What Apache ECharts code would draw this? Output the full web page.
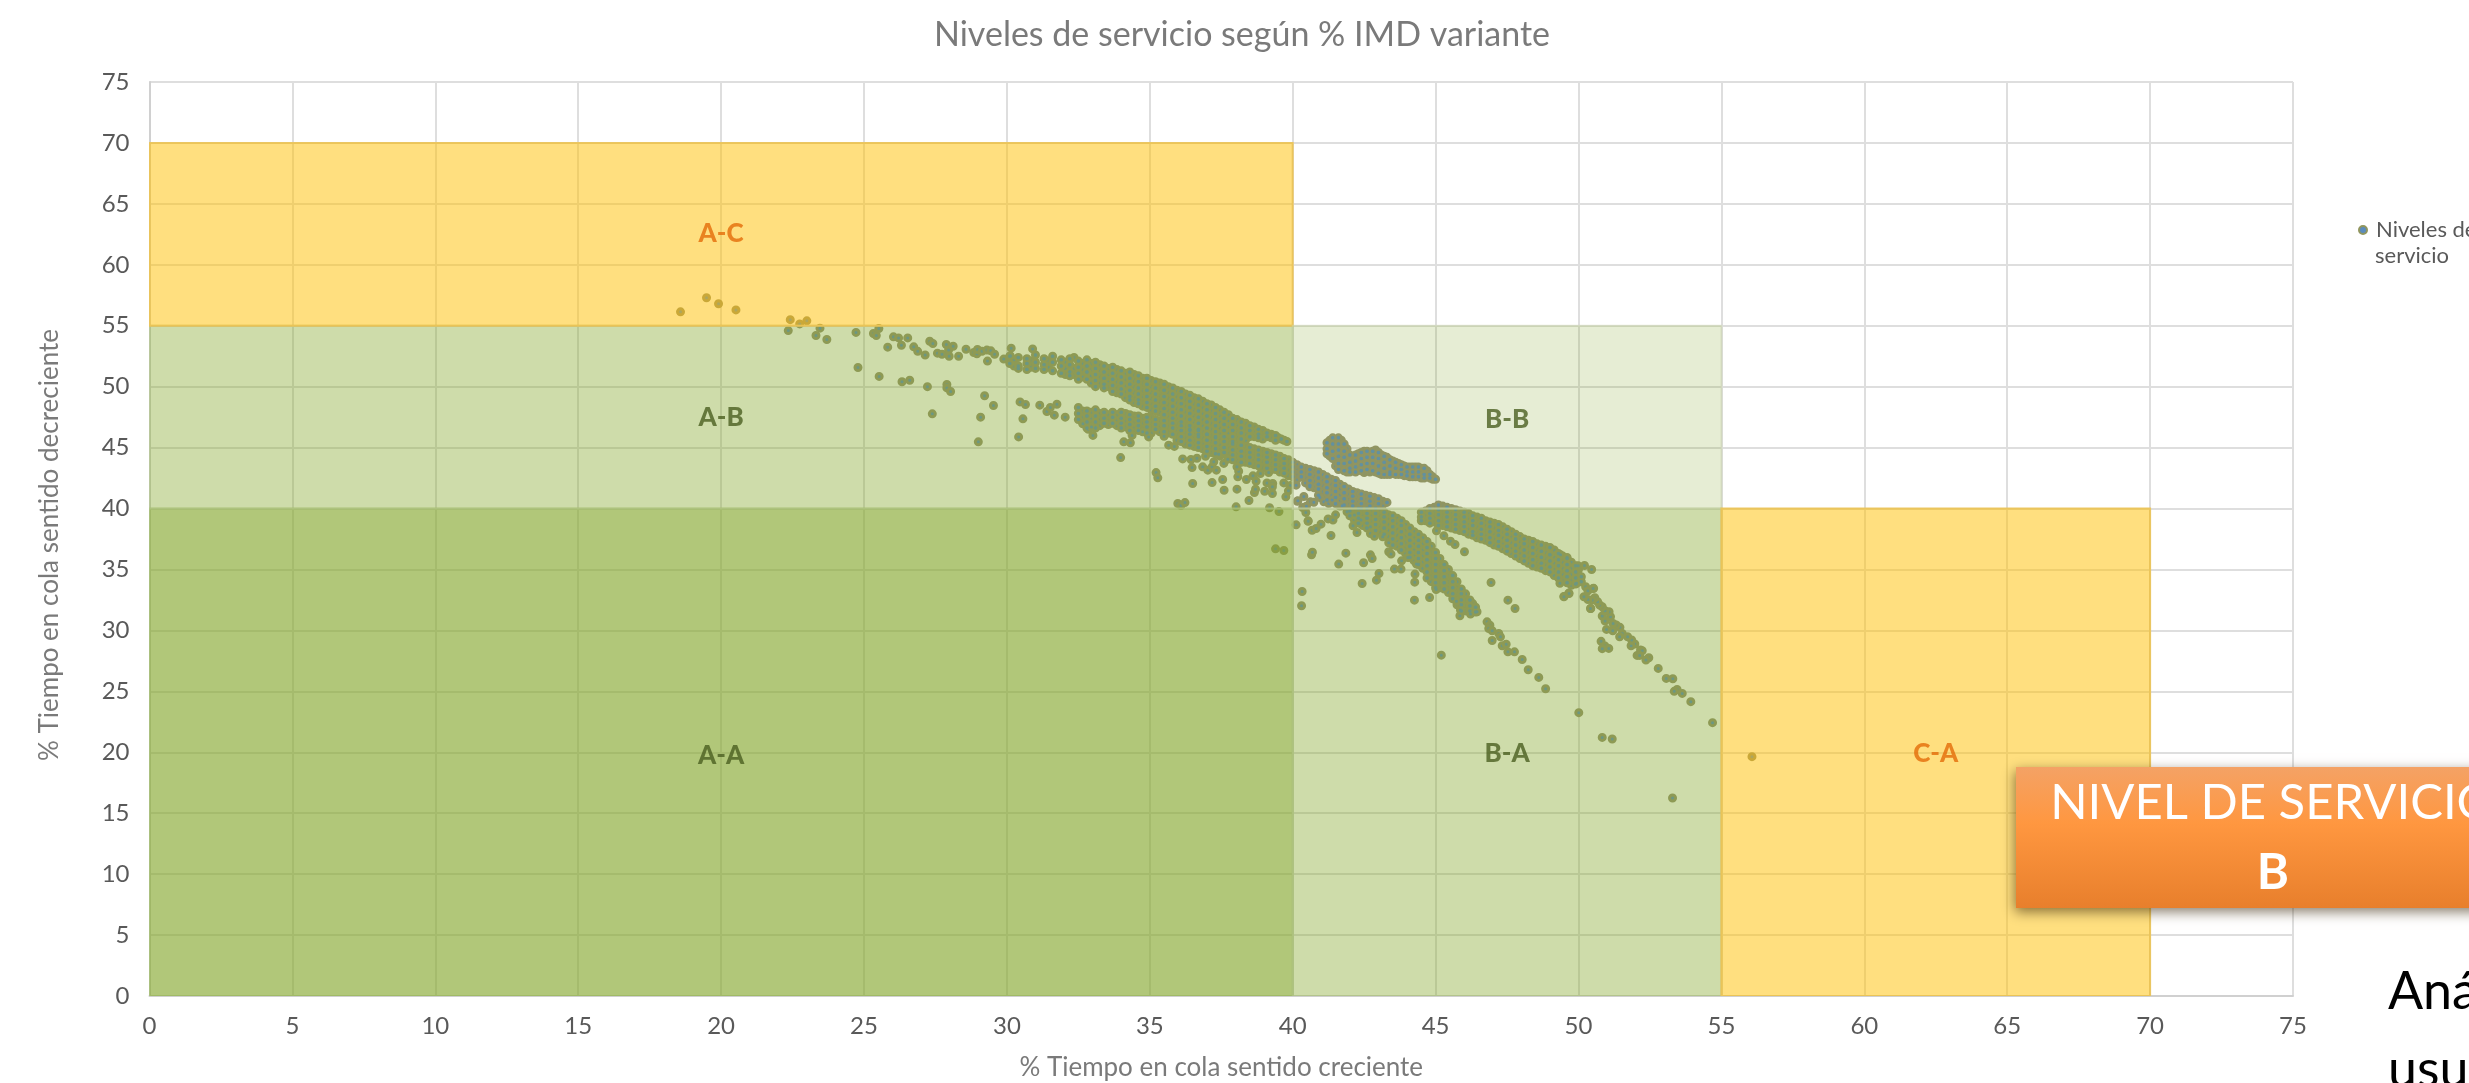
<!DOCTYPE html>
<html><head><meta charset="utf-8">
<style>html,body{margin:0;padding:0;background:#fff;overflow:hidden}#c{width:2469px;height:1083px}</style>
<script src="https://cdn.jsdelivr.net/npm/echarts@6/dist/echarts.min.js"></script>
</head><body><div id="c"></div>
<script>
// Sparse points [x, y]
const sparseLeft = [[18.58,56.14],[19.49,57.3],[19.91,56.8],[20.52,56.3],[22.42,55.5],[22.75,55.15],[23.0,55.4],[22.35,54.6],[23.46,54.8],[23.32,54.2],[23.7,53.87],[24.72,54.45],[24.79,51.57],[25.53,50.84],[25.33,54.36],[25.43,54.2],[25.52,54.77],[25.83,53.24],[26.03,54.09],[26.21,54.0],[26.31,53.4],[26.53,54.0],[26.33,50.4],[26.6,50.53],[26.74,53.27],[26.88,52.9],[27.14,52.6],[27.22,50.0],[27.3,53.73],[27.41,53.54],[27.57,52.75],[27.73,52.66],[27.98,52.5],[27.88,53.46],[27.96,53.0],[28.12,53.32],[28.31,52.5],[28.57,53.07],[27.9,50.18],[27.9,49.9],[28.03,49.6],[27.39,47.77],[28.84,52.8],[28.95,52.7],[28.97,53.05],[29.13,52.9],[29.3,53.0],[29.44,52.94],[29.57,52.66],[29.32,52.1],[29.22,49.25],[29.53,48.45],[29.08,47.5],[29.0,45.47],[29.89,52.26],[30.15,53.16],[30.12,52.53],[30.9,53.1],[30.46,48.75],[30.65,48.54],[30.56,47.36],[30.41,45.88],[31.15,48.48],[31.4,47.96],[31.52,48.29],[31.75,48.56],[31.66,47.66],[32.04,47.5]];
const sparseCentre = [[32.66,46.95],[32.85,46.5],[33.01,46.0],[32.96,46.7],[34.09,45.47],[34.32,45.4],[33.98,44.18],[34.38,46.0],[34.75,46.3],[34.96,45.88],[35.5,45.93],[35.66,45.2],[35.86,45.1],[36.15,44.07],[36.44,44.02],[36.65,44.13],[36.95,44.29],[36.48,43.36],[36.85,43.42],[37.03,43.15],[37.18,43.42],[37.24,43.83],[37.33,43.15],[37.59,43.7],[37.73,44.05],[37.41,44.46],[35.22,42.95],[35.28,42.52],[36.5,42.05],[37.18,42.13],[37.55,42.38],[37.6,41.5],[38.05,41.59],[38.08,42.6],[38.11,43.06],[38.05,43.42],[38.38,42.38],[38.61,42.68],[38.72,42.24],[38.66,41.31],[38.7,41.59],[38.47,40.66],[38.02,40.14],[35.98,40.41],[36.09,40.25],[36.23,40.49],[39.1,42.1],[39.3,42.05],[39.02,41.42],[39.29,41.23],[39.29,41.78],[38.87,42.87],[39.16,42.95],[39.69,42.1],[39.92,41.9],[39.85,41.45],[39.76,40.96],[40.16,40.6],[39.19,40.06],[39.52,39.75],[40.12,38.66],[39.4,36.69],[39.69,36.56],[40.12,41.92],[40.18,40.63],[40.39,40.99],[40.35,40.08],[40.48,40.19],[40.46,39.67],[40.54,38.99],[40.62,40.55],[40.74,40.52],[40.6,41.78],[40.95,40.9],[41.09,40.55],[41.26,40.41],[41.38,40.69],[41.73,40.22],[41.9,39.73],[42.16,39.46],[42.39,39.05]];
const sparseLower = [[40.54,38.96],[40.68,38.22],[40.82,38.36],[40.99,38.72],[41.24,39.15],[41.41,39.05],[41.5,39.48],[41.34,37.79],[40.66,36.2],[40.69,36.42],[40.33,33.19],[40.31,32.02],[41.86,36.34],[41.61,35.44],[42.48,35.55],[42.72,36.2],[42.78,35.9],[42.43,33.85],[42.93,34.12],[43.02,34.67],[42.11,38.58],[42.25,38.03],[42.72,38.5],[42.72,37.95],[42.86,37.73],[43.15,37.68],[43.36,37.19],[43.36,36.45],[43.44,36.26],[43.56,35.03],[43.79,35.03],[43.81,35.71],[44.03,35.98],[44.33,35.44],[44.28,34.62],[44.27,33.96],[44.26,32.48],[44.79,32.7],[45.02,33.36],[45.2,27.97],[45.03,38.17],[45.29,37.76],[45.52,37.32],[45.68,37.05],[46.01,36.45],[46.94,33.93],[47.53,32.48],[47.78,31.8],[45.85,31.2],[46.22,31.34],[45.87,31.67],[45.73,32.4],[46.45,31.53]];
const tailLeft = [[46.8,30.7],[46.9,30.43],[46.86,30.16],[46.98,29.97],[46.98,29.17],[47.21,29.75],[47.27,29.47],[47.33,28.74],[47.47,28.87],[47.53,28.24],[47.76,28.24],[48.03,27.61],[48.24,26.77],[48.61,26.14],[48.85,25.21],[50.01,23.25],[50.83,21.22],[51.18,21.09],[53.29,16.25]];
const tailRight = [[56.07,19.64],[54.69,22.43],[53.93,24.15],[53.63,24.83],[53.45,25.16],[53.35,25.0],[53.3,26.03],[53.07,26.06],[52.79,26.88],[52.46,27.76],[52.36,27.57],[52.17,28.39],[52.23,28.33],[52.05,27.95],[52.14,27.95],[51.97,28.88],[51.84,28.74],[51.86,29.21],[51.72,29.48],[51.53,29.75],[51.44,29.48],[51.45,30.25],[51.32,30.44],[51.2,29.97],[50.98,30.08],[51.21,30.57],[51.12,31.12],[50.93,30.77],[50.83,31.18],[51.07,31.53],[50.93,31.61],[50.79,29.1],[50.93,28.71],[51.06,28.52],[50.83,28.5],[50.83,31.94],[50.74,32.08],[50.67,32.35],[50.43,31.8],[50.53,33.45],[50.57,32.68],[50.48,32.49],[50.33,32.54],[50.19,32.76],[50.25,33.58],[50.33,33.25],[50.07,34.0],[49.93,33.86],[49.99,35.3],[50.21,35.33],[50.46,35.0],[49.66,33.06],[49.49,32.79],[49.35,33.86],[49.37,36.2],[49.6,35.99],[50.42,31.8],[50.51,33.44],[49.67,33.03],[49.49,32.76]];
// Dense bands read column by column: [x, [y, y, ...]]
const bandUpper = [[30.1,[52.5,51.9]],[30.4,[52.4,51.7,51.5]],[30.7,[52.3,51.9,51.4]],[31.0,[52.6,52.0,51.5]],[31.3,[52.3,51.8,51.4]],[31.6,[52.5,52,51.3]],[31.9,[52.2,51.7,51.1]],[32.2,[52.3,51.8,51.2,50.9]],[32.5,[52.1,51.6,51.1,50.6]],[32.8,[52.2,51.7,51.2,50.6]],[33.1,[52.0,51.5,51,50.5,50.0]],[33.4,[51.7,51.2,50.7,50.2,49.9]],[33.7,[51.6,51.1,50.6,50.1,49.6]],[34.0,[51.3,50.8,50.3,49.8,49.4]],[34.3,[51.2,50.7,50.2,49.7,49.2,48.9]],[34.6,[50.9,50.4,49.9,49.4,48.9,48.6]],[34.9,[50.7,50.2,49.7,49.2,48.7,48.3]],[35.2,[50.4,49.9,49.4,48.9,48.4,48.0]],[35.5,[50.2,49.7,49.2,48.7,48.2,47.7]],[35.8,[49.9,49.4,48.9,48.4,47.9,47.4]],[36.1,[49.6,49.1,48.6,48.1,47.6,47.1]],[36.4,[49.3,48.8,48.3,47.8,47.3,46.8,46.4]],[36.7,[49,48.5,48,47.5,47,46.5,46.1]],[37,[48.6,48.1,47.6,47.1,46.6,46.1]],[37.3,[48.3,47.8,47.3,46.8,46.3,45.8]],[37.6,[47.9,47.4,46.9,46.4,45.9]],[37.9,[47.4,46.9,46.4,45.9,45.5]],[38.2,[47.1,46.6,46.2,45.7]],[38.5,[46.8,46.4,45.9]],[38.8,[46.5,46.1,45.8]],[39.1,[46.2,45.9]],[39.4,[46,45.6]],[39.6,[45.7]],[39.8,[45.5]]];
const bandUpperFill = [[30.25,[52.2,51.7]],[30.85,[52.1,51.6]],[31.45,[52.1,51.6]],[32.05,[52.0,51.5,51.0]],[32.35,[52.4,51.5,51.0]],[32.65,[51.9,51.4,50.8]],[32.95,[51.9,51.4,50.9,50.3]],[33.25,[51.8,51.3,50.8,50.3]],[33.55,[51.5,51,50.4,50]],[33.85,[51.4,50.9,50.4,49.9,49.5]],[34.15,[51.1,50.6,50.1,49.6,49.1]],[34.45,[51,50.5,50,49.5,49,48.7]],[34.75,[50.7,50.3,49.7,49.2,48.7,48.4]],[35.05,[50.5,50,49.5,49,48.5,48.1]],[35.35,[50.3,49.8,49.3,48.8,48.3,47.9]],[35.65,[50,49.5,49,48.5,48,47.5]],[35.95,[49.7,49.2,48.7,48.2,47.7,47.2]],[36.25,[49.4,48.9,48.4,47.9,47.4,46.9,46.6]],[36.55,[49.1,48.6,48.1,47.6,47.1,46.6,46.2]],[36.85,[48.8,48.3,47.8,47.3,46.8,46.3]],[37.15,[48.5,48,47.5,47,46.5,46]],[37.45,[48.1,47.6,47.1,46.6,46.1,45.7]],[37.75,[47.7,47.2,46.7,46.2,45.7]],[38.05,[47.3,46.8,46.3,45.8]],[38.35,[47,46.5,46.1,45.6]],[38.65,[46.7,46.3,45.9]],[38.95,[46.4,46,45.7]],[39.25,[46.1,45.8]],[39.5,[45.8]],[39.7,[45.6]]];
const bandLower = [[32.5,[48.3,47.8,47.3]],[32.8,[48.0,47.6,47.1,46.6]],[33.1,[48.1,47.6,47.1,46.6]],[33.4,[47.9,47.4,47.0]],[33.7,[47.9,47.5,47.0]],[34,[47.9,47.4,47,46.6]],[34.3,[47.7,47.3,46.9,46.4]],[34.6,[47.6,47.2,46.8,46.4]],[34.9,[47.5,47.1,46.7,46.2]],[35.2,[47.3,46.9,46.5]],[35.5,[47.2,46.8,46.3]],[35.8,[47.0,46.6,46.1]],[36.1,[46.8,46.4,45.9,45.5]],[36.4,[46.5,46.1,45.6,45.2]],[36.7,[46.4,45.9,45.4,45]],[37,[46.1,45.6,45.1,44.7]],[37.3,[45.9,45.4,44.9,44.5]],[37.6,[45.5,45,44.6]],[37.9,[45.3,44.8,44.4,44]],[38.2,[45.2,44.7,44.3,43.8]],[38.5,[45,44.6,44.2,43.7]],[38.8,[44.8,44.4,44,43.5]],[39.1,[44.6,44.2,43.8,43.3]],[39.4,[44.4,44,43.6,43.2]],[39.7,[44.1,43.7,43.3,42.9]],[40,[43.8,43.4,43,42.6]],[40.3,[43.4,43,42.6]],[40.6,[43.2,42.8,42.3,41.9]],[40.9,[43,42.5,42,41.6,41.1]],[41.2,[42.6,42.2,41.7,41.3,40.7]],[41.5,[42.3,41.9,41.4,40.9,40.4]],[41.8,[41.8,41.3,40.8,40.3]],[42.1,[41.4,41,40.6,40.2]],[42.4,[41.2,40.8,40.4,40]],[42.7,[41,40.6,40.2]],[43,[40.8,40.4]],[43.3,[40.5]]];
const bandLowerFill = [[32.65,[48,47.5,47]],[32.95,[47.9,47.4,46.9]],[33.25,[47.8,47.3,46.8]],[33.55,[47.7,47.2,46.9]],[33.85,[47.7,47.2,46.8]],[34.15,[47.8,47.2,46.7]],[34.45,[47.6,47.1,46.6]],[34.75,[47.4,47,46.5]],[35.05,[47.4,47,46.6,46.2]],[35.35,[47.2,46.7,46.3]],[35.65,[47.1,46.7,46.2]],[35.95,[46.9,46.5,46,45.6]],[36.25,[46.7,46.2,45.8,45.3]],[36.55,[46.5,46,45.5,45.1]],[36.85,[46.3,45.8,45.3,44.9]],[37.15,[46,45.5,45,44.6]],[37.45,[45.7,45.2,44.8,44.3]],[37.75,[45.4,44.9,44.5,44.1]],[38.05,[45.2,44.8,44.4,43.9]],[38.35,[45.1,44.6,44.2,43.8]],[38.65,[44.9,44.5,44.1,43.6]],[38.95,[44.7,44.3,43.9,43.4]],[39.25,[44.5,44.1,43.7,43.2]],[39.55,[44.3,43.9,43.5,43]],[39.85,[44,43.6,43.2,42.7]],[40.15,[43.6,43.2,42.8,42.4]],[40.45,[43.3,42.9,42.5,42.1]],[40.75,[43.1,42.6,42.2,41.7]],[41.05,[42.8,42.3,41.9,41.4,40.9]],[41.35,[42.4,42,41.5,41.1,40.6]],[41.65,[42,41.6,41.1,40.6,40.2]],[41.95,[41.6,41.2,40.7,40.3]],[42.25,[41.3,40.9,40.5,40.1]],[42.55,[41.1,40.7,40.3]],[42.85,[40.9,40.5,40.1]],[43.15,[40.6,40.3]]];
const bandMiddle = [[42,[39.8,39.4]],[42.3,[40,39.6,39.2,38.8]],[42.6,[40,39.6,39.2,38.8,38.4]],[42.9,[40,39.6,39.1,38.7,38.2]],[43.2,[39.7,39.3,38.9,38.4,37.9]],[43.5,[39.4,39,38.5,38,37.5,37]],[43.8,[39,38.6,38.1,37.6,37.1,36.6]],[44.1,[38.4,37.9,37.4,36.9,36.4,36]],[44.4,[37.9,37.4,36.9,36.4,35.9,35.4]],[44.7,[37.3,36.8,36.3,35.8,35.3,34.8,34.3]],[45,[36.4,35.9,35.4,34.9,34.4,33.9,33.5]],[45.3,[35.4,34.9,34.4,33.9,33.4]],[45.6,[34.5,34,33.5,33,32.6]],[45.9,[33.4,33,32.5,32.1,31.6]],[46.2,[32.5,32,31.6]],[46.4,[31.9,31.5]]];
const bandMiddleFill = [[42.15,[39.9,39.5,39.1]],[42.45,[39.8,39.4,39,38.6]],[42.75,[39.8,39.4,39,38.5]],[43.05,[39.8,39.4,39,38.5,38.1]],[43.35,[39.5,39.1,38.7,38.2,37.7]],[43.65,[39.2,38.8,38.3,37.8,37.3,36.9]],[43.95,[38.7,38.2,37.7,37.2,36.7,36.3]],[44.25,[38.1,37.6,37.1,36.6,36.1,35.7]],[44.55,[37.6,37.1,36.6,36.1,35.6,35.1]],[44.85,[36.9,36.4,35.9,35.4,34.9,34.4,34]],[45.15,[35.9,35.4,34.9,34.4,33.9,33.5]],[45.45,[35,34.5,34,33.5,33.1]],[45.75,[34,33.5,33,32.6,32.1]],[46.05,[33,32.5,32,31.6]],[46.3,[32.2,31.7]]];
const bandRight = [[44.5,[39.7,39.3,39]],[44.8,[40,39.6,39.2,38.8]],[45.1,[40.3,39.9,39.5,39,38.6]],[45.4,[40.1,39.7,39.3,38.9,38.5]],[45.7,[39.9,39.5,39.1,38.7,38.3]],[46,[39.7,39.3,38.9,38.5,38.1]],[46.3,[39.4,39,38.6,38.1,37.8]],[46.6,[39.2,38.8,38.3,37.9,37.5]],[46.9,[38.9,38.5,38.1,37.6,37.2]],[47.2,[38.7,38.2,37.8,37.3,36.9]],[47.5,[38.3,37.9,37.4,36.9,36.5]],[47.8,[37.9,37.5,37,36.5,36.1]],[48.1,[37.5,37.1,36.6,36.1,35.7]],[48.4,[37.3,36.8,36.3,35.8,35.3]],[48.7,[37,36.5,36,35.5,35.1]],[49,[36.8,36.2,35.7,35.2,34.8]],[49.3,[36.3,35.8,35.3,34.8,34.3]],[49.6,[35.9,35.4,34.9,34.4,33.9]],[49.9,[35.3,34.8,34.3,33.8]],[50.1,[34.4,34.0]]];
const bandRightFill = [[44.65,[39.8,39.4,39]],[44.95,[40.1,39.7,39.3,38.9]],[45.25,[40.2,39.8,39.4,39,38.6]],[45.55,[40,39.6,39.2,38.8,38.4]],[45.85,[39.8,39.4,39,38.6,38.2]],[46.15,[39.6,39.2,38.7,38.3,37.9]],[46.45,[39.3,38.9,38.5,38,37.6]],[46.75,[39,38.6,38.2,37.8,37.4]],[47.05,[38.8,38.4,37.9,37.5,37]],[47.35,[38.5,38.1,37.6,37.1,36.7]],[47.65,[38.1,37.7,37.2,36.7,36.3]],[47.95,[37.7,37.3,36.8,36.3,35.9]],[48.25,[37.4,36.9,36.4,35.9,35.5]],[48.55,[37.1,36.6,36.1,35.6,35.2]],[48.85,[36.9,36.4,35.9,35.4,34.9]],[49.15,[36.6,36,35.5,35,34.5]],[49.45,[36.1,35.6,35.1,34.6,34.1]],[49.75,[35.6,35.1,34.6,34.1,33.7]],[50.0,[35,34.5,34]]];
const bandHook = [[41.2,[45.4,44.9,44.5]],[41.4,[45.8,45.3,44.7,44.1]],[41.6,[45.8,45.3,44.8,44.3,43.7,43.2]],[41.8,[45.3,44.7,44.2,43.7,43.1]],[42.0,[44.4,43.8,43.3,43.0]],[42.2,[44.4,43.9,43.4,43.0]],[42.4,[44.6,44.1,43.6,43.1]],[42.6,[44.7,44.2,43.7,43.2]],[42.8,[44.7,44.2,43.7,43.1]],[43.0,[44.6,44.1,43.5,42.9]],[43.2,[44.3,43.8,43.3,42.8]],[43.4,[44.0,43.5,43.0,42.8]],[43.6,[43.8,43.3,42.8]],[43.8,[43.6,43.2,42.8]],[44,[43.4,43,42.7]],[44.2,[43.4,43.0,42.6]],[44.4,[43.4,43,42.6]],[44.6,[43.3,42.8,42.5]],[44.8,[42.8,42.5]],[45,[42.4]]];
const bandHookFill = [[41.3,[45.6,45.1,44.6,44.3]],[41.5,[45.5,45,44.5,44,43.5]],[41.7,[45.6,45,44.5,44,43.4]],[41.9,[44.9,44.4,43.9,43.4,43]],[42.1,[44.2,43.6,43.1]],[42.3,[44.5,44.1,43.6,43.2]],[42.5,[44.7,44.4,43.9,43.4,42.95]],[42.7,[44.5,44,43.5,43]],[42.9,[44.8,44.4,43.9,43.4,43]],[43.1,[44.4,43.9,43.4,42.8]],[43.3,[44.2,43.7,43.2,42.8]],[43.5,[43.9,43.4,42.9]],[43.7,[43.7,43.2,42.8]],[43.9,[43.5,43.1,42.7]],[44.1,[43.4,43,42.6]],[44.3,[43.4,43,42.6]],[44.5,[43.3,42.9,42.5]],[44.7,[43.1,42.7]],[44.9,[42.6,42.4]]];

const zoneNames = ['A-A','A-B','A-C','B-A','B-B','C-A'];
const zoneX0 = [0,0,0,40,40,55];
const zoneX1 = [40,40,40,55,55,70];
const zoneY0 = [0,40,55,0,40,0];
const zoneY1 = [40,55,70,40,55,40];
const zoneLabelX = [20,20,20,47.5,47.5,62.5];
const zoneLabelY = [19.7,47.5,62.6,19.85,47.3,19.85];
const zoneFill = ['rgba(132,167,42,.63)','rgba(132,167,42,.4)','rgba(255,192,0,.5)','rgba(132,167,42,.4)','rgba(132,167,42,.2)','rgba(255,192,0,.5)'];
const zoneEdge = ['rgba(160,190,100,.5)','rgba(180,200,140,.5)','rgba(235,195,85,.9)','rgba(180,200,140,.5)','rgba(205,215,175,.5)','rgba(235,195,85,.9)'];
const zoneText = ['#4b5f20','#4b5f20','#e36c09','#4b5f20','#4b5f20','#e36c09'];

const flat = b => b.flatMap(c => c[1].map(y => [c[0], y]));
const sparse = [...sparseLeft,...sparseCentre,...sparseLower,...tailLeft,...tailRight];
const bandCentres = [...flat(bandUpper),...flat(bandLower),...flat(bandMiddle),...flat(bandRight),...flat(bandHook)];
const points = [...flat(bandUpperFill),...flat(bandLowerFill),...flat(bandMiddleFill),...flat(bandRightFill),...flat(bandHookFill),...bandCentres,...sparse];
const zones = zoneNames.map((n,i)=>[zoneX0[i],zoneX1[i],zoneY0[i],zoneY1[i],i]);
const F = 'Lato, "Open Sans", sans-serif';
const grey = '#595959';
const axisCommon = {type:'value',min:0,max:75,interval:5,
  axisLine:{show:true,onZero:false,lineStyle:{color:'#d0d0d0',width:2}},axisTick:{show:false},
  splitLine:{show:true,lineStyle:{color:'#dedede',width:2}},
  nameLocation:'middle'};
const nameStyle = {color:'#7a7a7a',fontFamily:F,fontSize:26};

const chart = echarts.init(document.getElementById('c'),null,{renderer:'canvas',width:2469,height:1083});
chart.setOption({
  animation:false,
  backgroundColor:'#fff',
  title:{text:'Niveles de servicio según % IMD variante',left:1237,top:13,textAlign:'center',
    textStyle:{color:'#7a7a7a',fontFamily:F,fontSize:34,fontWeight:'normal'}},
  grid:{left:149.5,right:176,top:82,bottom:87,containLabel:false,outerBoundsMode:'none'},
  legend:{left:2353,top:214,orient:'vertical',data:[{name:'Niveles de servicio',icon:'circle',
      itemStyle:{color:'#5a8cbe',borderColor:'#91965f',borderWidth:2}}],itemWidth:8,itemHeight:8,itemGap:0,
    formatter:()=>'Niveles de',
    textStyle:{color:grey,fontFamily:F,fontSize:22,padding:[0,0,0,4]}},
  xAxis:{...axisCommon,name:'% Tiempo en cola sentido creciente',nameGap:59,nameTextStyle:nameStyle,
    axisLabel:{color:grey,fontFamily:F,fontSize:24,margin:18}},
  yAxis:{...axisCommon,name:'% Tiempo en cola sentido decreciente',nameGap:87,nameTextStyle:{...nameStyle,padding:[0,12,0,0]},
    axisLabel:{color:grey,fontFamily:F,fontSize:24,margin:20}},
  series:[
    {name:'Niveles de servicio',type:'scatter',z:2,data:points,symbolSize:6,
      itemStyle:{color:'#5a8cbe',borderColor:'#949171',borderWidth:3,opacity:1}},
    {name:'centros',type:'scatter',z:2,silent:true,data:bandCentres,symbolSize:3.5,
      itemStyle:{color:'#5a8cbe',opacity:1}},
    {name:'zonas',type:'custom',z:3,silent:true,data:zones,clip:true,
      encode:{x:[0,1],y:[2,3]},
      renderItem:(p,api)=>{
        const a=api.coord([api.value(0),api.value(3)]),b=api.coord([api.value(1),api.value(2)]),i=api.value(4);
        return {type:'rect',shape:{x:a[0],y:a[1],width:b[0]-a[0],height:b[1]-a[1]},
          style:{fill:zoneFill[i],stroke:zoneEdge[i],lineWidth:2}};
      }},
    {name:'etiquetas',type:'scatter',z:4,silent:true,symbolSize:0,
      data:zoneNames.map((n,i)=>({value:[zoneLabelX[i],zoneLabelY[i]],name:n,
        label:{show:true,position:'inside',formatter:n,color:zoneText[i],fontFamily:F,fontSize:26,fontWeight:900}}))}
  ],
  graphic:[
    {type:'text',z:5,style:{x:2375,y:256,text:'servicio',fill:grey,font:'22px '+F,align:'left',verticalAlign:'middle'}},
    {type:'rect',z:100,shape:{x:2016,y:767,width:520,height:141},
      style:{fill:new echarts.graphic.LinearGradient(0,0,0,1,[{offset:0,color:'#f4a265'},{offset:.4,color:'#ff9740'},{offset:1,color:'#e87f2c'}]),
        shadowBlur:12,shadowOffsetY:4,shadowOffsetX:-1,shadowColor:'rgba(60,40,10,.6)'}},
    {type:'text',z:101,style:{x:2273,y:803,text:'NIVEL DE SERVICIO',fill:'#fff',font:'49px '+F,align:'center',verticalAlign:'middle'}},
    {type:'text',z:101,style:{x:2273,y:873,text:'B',fill:'#fff',font:'bold 49px '+F,align:'center',verticalAlign:'middle'}},
    {type:'text',z:101,style:{x:2388,y:1018,text:'Análisis',fill:'#000',font:'52px '+F,align:'left',verticalAlign:'bottom'}},
    {type:'text',z:101,style:{x:2388,y:1096,text:'usuarios',fill:'#000',font:'52px '+F,align:'left',verticalAlign:'bottom'}}
  ]
});
</script></body></html>
